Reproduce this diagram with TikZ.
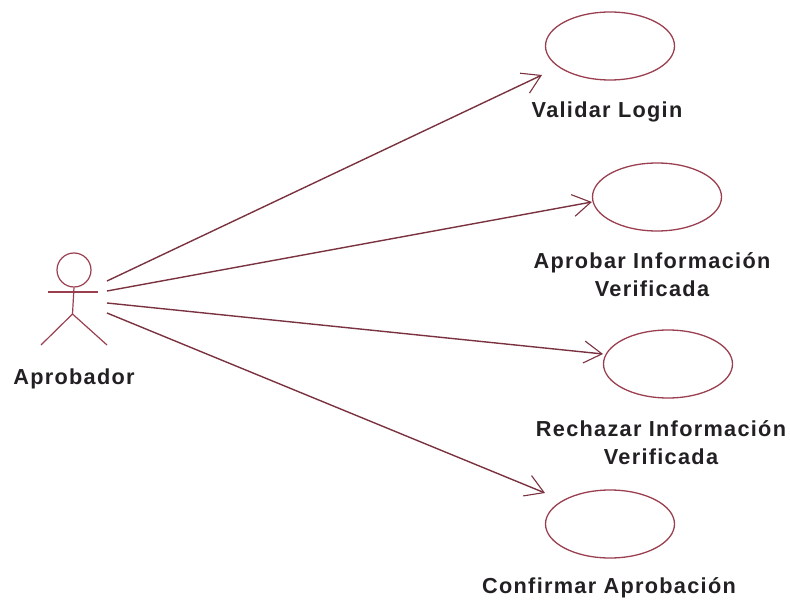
\documentclass[tikz,border=0pt]{standalone}
\usepackage{fontspec}
\setmainfont{Liberation Sans}[LetterSpace=6]
\usetikzlibrary{arrows.meta,shapes.geometric}
\definecolor{umlred}{HTML}{9A3F50}
\definecolor{lbl}{HTML}{222022}
\tikzset{
  usecase/.style={draw=umlred,ellipse,line width=1.3pt,minimum width=129pt,minimum height=68pt,inner sep=0pt,fill=white},
  lab/.style={font=\bfseries\fontsize{21.7}{28}\selectfont,text=lbl,align=center,inner sep=0pt},
  assoc/.style={draw=umlred!80!black,line width=1.4pt,-{Straight Barb[length=18pt,width=22pt,line width=1.1pt]}},
  stick/.style={draw=umlred,line width=1.2pt}
}
\begin{document}
\begin{tikzpicture}[x=1pt,y=-1pt]
\useasboundingbox (0,0) rectangle (790,604);
\node[usecase] (uc1) at (610,46) {};
\node[usecase] (uc2) at (657,197) {};
\node[usecase] (uc3) at (668,364) {};
\node[usecase] (uc4) at (610,524) {};
\node[lab] (l1) at (607,112) {Validar Login};
\node[lab] (l2) at (652,275) {Aprobar Información\\Verificada};
\node[lab] (l3) at (661,443) {Rechazar Información\\Verificada};
\node[lab] (l4) at (609,588) {Confirmar Aprobación};
\node[lab] (l0) at (74,379) {Aprobador};
% actor
\node[draw=umlred,circle,line width=1.2pt,minimum size=34pt,inner sep=0pt] (head) at (74,270) {};
\coordinate (hip) at (72.5,314);
\coordinate (armL) at (48,292);
\coordinate (armR) at (98,292);
\coordinate (footL) at (41,345);
\coordinate (footR) at (107,345);
\draw[stick] (head.south) -- (hip);
\draw[stick] (armL) -- (armR);
\draw[stick] (footL) -- (hip) -- (footR);
% connector ends
\coordinate (s1) at (107,281);
\coordinate (s2) at (107,291);
\coordinate (s3) at (107,303);
\coordinate (s4) at (107,313);
\coordinate (e1) at (542,75);
\coordinate (e3) at (603,354);
\coordinate (e4) at (545,493);
\draw[assoc] (s1) -- (e1);
\draw[assoc] (s2) -- (uc2.west |- 0,202);
\draw[assoc] (s3) -- (e3);
\draw[assoc] (s4) -- (e4);
\end{tikzpicture}
\end{document}
